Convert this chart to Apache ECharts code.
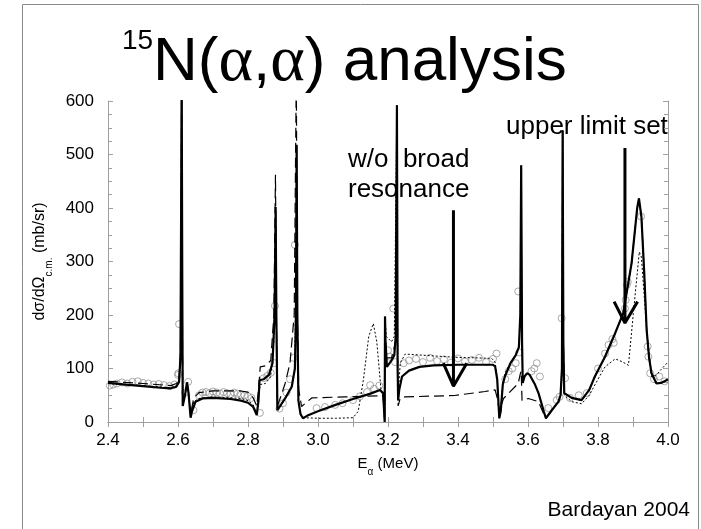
<!DOCTYPE html>
<html>
<head>
<meta charset="utf-8">
<script src="https://cdn.jsdelivr.net/npm/echarts@6/dist/echarts.min.js"></script>
<style>
  html, body { margin: 0; padding: 0; background: #fff; }
  #chart { width: 701px; height: 529px; }
</style>
</head>
<body>
<div id="chart"></div>
<script>
// energies (MeV) and cross sections (mb/sr)
const solidE = [2.40, 2.45, 2.50, 2.55, 2.58, 2.595, 2.603, 2.607, 2.609, 2.6105, 2.612, 2.6135, 2.620, 2.626, 2.630, 2.636, 2.640, 2.650, 2.67, 2.70, 2.75, 2.78, 2.80, 2.815, 2.825, 2.830, 2.833, 2.845, 2.86, 2.870, 2.876, 2.879, 2.881, 2.884, 2.89, 2.906, 2.925, 2.934, 2.937, 2.939, 2.941, 2.944, 2.950, 2.957, 2.97, 3.00, 3.05, 3.10, 3.15, 3.177, 3.186, 3.189, 3.1905, 3.1915, 3.193, 3.197, 3.21, 3.218, 3.222, 3.2255, 3.2275, 3.229, 3.232, 3.24, 3.26, 3.29, 3.33, 3.40, 3.50, 3.506, 3.512, 3.518, 3.522, 3.528, 3.534, 3.55, 3.565, 3.574, 3.578, 3.5805, 3.583, 3.585, 3.59, 3.597, 3.605, 3.62, 3.63, 3.645, 3.651, 3.668, 3.687, 3.693, 3.697, 3.699, 3.701, 3.7035, 3.725, 3.753, 3.775, 3.791, 3.82, 3.849, 3.872, 3.896, 3.912, 3.917, 3.924, 3.932, 3.939, 3.946, 3.953, 3.967, 3.98, 3.99, 4.0];
const solidV = [73, 70, 67, 64, 63, 66, 75, 120, 400, 650, 300, 30, 50, 74, 55, 8, 20, 38, 44, 45, 43, 40, 36, 28, 13, 40, 78, 80, 88, 110, 200, 402, 200, 22, 28, 44, 66, 100, 200, 518, 200, 40, 15, 7, 12, 20, 32, 43, 53, 60, 54, 20, 0, 197, 150, 103, 115, 125, 160, 592, 100, 40, 60, 85, 96, 103, 106, 107, 107, 104, 80, 7, 20, 70, 85, 110, 125, 140, 200, 480, 150, 73, 85, 91, 88, 70, 54, 20, 7, 22, 38, 50, 100, 545, 150, 54, 45, 41, 60, 85, 122, 166, 203, 297, 400, 418, 384, 280, 172, 120, 91, 72, 73, 76, 80];

const dashE = [2.40, 2.50, 2.58, 2.595, 2.603, 2.607, 2.609, 2.6105, 2.612, 2.6135, 2.620, 2.626, 2.630, 2.636, 2.645, 2.66, 2.70, 2.78, 2.80, 2.815, 2.825, 2.830, 2.835, 2.85, 2.865, 2.874, 2.8785, 2.881, 2.884, 2.895, 2.906, 2.92, 2.932, 2.938, 2.941, 2.945, 2.953, 2.982, 3.077, 3.186, 3.189, 3.1905, 3.1915, 3.195, 3.21, 3.222, 3.2255, 3.2275, 3.229, 3.235, 3.249, 3.39, 3.477, 3.506, 3.512, 3.518, 3.53, 3.572, 3.578, 3.5805, 3.583, 3.601, 3.63, 3.645, 3.651, 3.668, 3.687, 3.693, 3.697, 3.699, 3.701, 3.7035, 3.725, 3.753, 3.775, 3.791, 3.82, 3.849, 3.872, 3.896, 3.912, 3.917, 3.924, 3.932, 3.939, 3.946, 3.953, 3.967, 3.98, 3.99, 4.0];
const dashV = [76, 72, 68, 72, 80, 130, 400, 650, 300, 35, 55, 74, 55, 15, 45, 55, 58, 58, 56, 45, 30, 60, 103, 105, 115, 200, 462, 200, 30, 50, 72, 110, 200, 650, 200, 60, 29, 45, 47, 49, 20, 0, 190, 120, 120, 150, 590, 80, 30, 45, 47, 49.5, 57, 60, 45, 20, 44, 72, 90, 95, 40, 44, 38, 15, 7, 22, 38, 50, 100, 545, 150, 54, 45, 41, 60, 85, 122, 166, 203, 297, 400, 418, 384, 280, 172, 120, 91, 72, 73, 76, 80];

const dotE = [2.40, 2.50, 2.58, 2.595, 2.603, 2.607, 2.609, 2.6105, 2.612, 2.6135, 2.620, 2.626, 2.630, 2.636, 2.645, 2.66, 2.70, 2.78, 2.80, 2.815, 2.825, 2.830, 2.835, 2.85, 2.865, 2.874, 2.879, 2.881, 2.884, 2.895, 2.906, 2.925, 2.934, 2.939, 2.941, 2.944, 2.950, 2.96, 3.00, 3.05, 3.10, 3.115, 3.13, 3.145, 3.158, 3.168, 3.18, 3.186, 3.189, 3.1905, 3.1915, 3.195, 3.21, 3.218, 3.2255, 3.2275, 3.229, 3.235, 3.249, 3.39, 3.496, 3.506, 3.512, 3.518, 3.522, 3.528, 3.534, 3.55, 3.565, 3.574, 3.578, 3.5805, 3.583, 3.585, 3.59, 3.597, 3.605, 3.62, 3.63, 3.645, 3.651, 3.668, 3.687, 3.693, 3.697, 3.699, 3.701, 3.7035, 3.725, 3.753, 3.775, 3.80, 3.82, 3.849, 3.868, 3.887, 3.901, 3.918, 3.924, 3.939, 3.953, 3.967, 3.98, 4.0];
const dotV = [72, 68, 64, 68, 78, 125, 400, 650, 300, 30, 50, 74, 55, 10, 38, 44, 47, 44, 40, 32, 15, 45, 70, 72, 85, 150, 380, 200, 22, 30, 44, 66, 100, 500, 200, 40, 12, 8, 7, 7, 8, 20, 80, 160, 184, 150, 60, 45, 15, 0, 197, 160, 150, 160, 592, 110, 50, 110, 127, 121, 119, 112, 80, 7, 20, 75, 90, 112, 125, 140, 200, 480, 150, 73, 85, 91, 88, 70, 54, 20, 7, 22, 38, 50, 100, 545, 150, 50, 38, 34, 50, 80, 103, 118, 113, 106, 203, 318, 308, 172, 85, 88, 98, 112];

const dataE = [2.405, 2.415, 2.425, 2.44, 2.455, 2.47, 2.485, 2.50, 2.515, 2.53, 2.545, 2.56, 2.575, 2.59, 2.600, 2.601, 2.603, 2.620, 2.629, 2.644, 2.66, 2.67, 2.68, 2.69, 2.70, 2.71, 2.72, 2.73, 2.74, 2.75, 2.76, 2.77, 2.78, 2.79, 2.80, 2.81, 2.834, 2.845, 2.855, 2.865, 2.875, 2.877, 2.89, 2.90, 2.91, 2.92, 2.93, 2.934, 2.996, 3.02, 3.049, 3.07, 3.10, 3.12, 3.14, 3.149, 3.16, 3.175, 3.20, 3.205, 3.215, 3.22, 3.245, 3.26, 3.28, 3.30, 3.32, 3.34, 3.36, 3.38, 3.40, 3.42, 3.44, 3.46, 3.48, 3.50, 3.51, 3.535, 3.545, 3.555, 3.565, 3.572, 3.575, 3.61, 3.618, 3.625, 3.634, 3.658, 3.682, 3.69, 3.696, 3.706, 3.72, 3.745, 3.768, 3.80, 3.82, 3.83, 3.841, 3.845, 3.877, 3.879, 3.882, 3.885, 3.923, 3.942, 3.944, 3.949, 3.96, 3.975, 3.99];
const dataV = [68, 70, 72, 74, 72, 75, 76, 73, 72, 70, 71, 69, 67, 70, 88, 91, 183, 55, 75, 22, 50, 55, 56, 54, 57, 55, 53, 56, 54, 52, 55, 53, 51, 50, 48, 45, 17, 82, 86, 92, 110, 217, 25, 35, 55, 80, 120, 331, 26, 28, 32, 35, 41, 48, 56, 69, 62, 68, 134, 122, 212, 112, 110, 115, 118, 112, 120, 114, 117, 111, 119, 113, 116, 120, 112, 118, 128, 80, 95, 100, 110, 244, 130, 95, 100, 110, 85, 26, 41, 47, 194, 82, 45, 50, 54, 100, 128, 144, 155, 148, 212, 228, 256, 262, 384, 141, 122, 91, 80, 85, 76];

// annotation arrows (shaft top, tip, arm ends) in data units
const arrowOneE = [3.387, 3.387, null, 3.358, 3.387, 3.425];
const arrowOneV = [396, 67, null, 110, 67, 110];
const arrowTwoE = [3.877, 3.877, null, 3.846, 3.877, 3.913];
const arrowTwoV = [512, 185, null, 225, 185, 225];

const xTicks = [2.4, 2.6, 2.8, 3.0, 3.2, 3.4, 3.6, 3.8, 4.0];

const zip = (xs, ys) => xs.map((x, i) => (x === null ? [null, null] : [x, ys[i]]));

const chart = echarts.init(document.getElementById('chart'));
const font = "'Liberation Sans', Arial, Helvetica, sans-serif";
const serif = "'Liberation Serif', 'DejaVu Serif', serif";
const axisGray = '#a0a0a0';

const baseX = {
  type: 'value', min: 2.4, max: 4.0, interval: 0.2,
  axisLine: { show: true, lineStyle: { color: axisGray, width: 1 } },
  axisTick: { show: true, inside: true, length: 5, lineStyle: { color: axisGray } },
  minorTick: { show: true, splitNumber: 2, length: 5, lineStyle: { color: axisGray } },
  splitLine: { show: false }
};
const baseY = {
  type: 'value', min: 0, max: 600, interval: 100,
  axisLine: { show: true, lineStyle: { color: axisGray, width: 1 } },
  axisTick: { show: true, inside: true, length: 5, lineStyle: { color: axisGray } },
  minorTick: { show: true, splitNumber: 4, length: 4, lineStyle: { color: axisGray } },
  splitLine: { show: false }
};

const option = {
  backgroundColor: '#fff',
  animation: false,
  grid: { left: 108, right: 33, top: 101, bottom: 107 },
  xAxis: [
    Object.assign({}, baseX, {
      position: 'bottom',
      axisLabel: {
        color: '#000', fontSize: 17, fontFamily: font, margin: 10,
        formatter: v => xTicks.some(t => Math.abs(t - v) < 1e-6) ? v.toFixed(1) : ''
      },
      name: 'E{sub|α} (MeV)',
      nameLocation: 'middle', nameGap: 34,
      nameTextStyle: {
        color: '#000', fontSize: 15, fontFamily: font,
        rich: { sub: { fontSize: 10, fontFamily: font, color: '#000', verticalAlign: 'bottom', padding: [0, 0, -6, 0] } }
      }
    }),
    Object.assign({}, baseX, { position: 'top', axisLabel: { show: false } })
  ],
  yAxis: [
    Object.assign({}, baseY, {
      position: 'left',
      axisLabel: { color: '#000', fontSize: 17, fontFamily: font, margin: 14 },
      name: 'dσ/dΩ{sub|c.m.} (mb/sr)',
      nameLocation: 'middle', nameRotate: 90, nameGap: 58,
      nameTextStyle: {
        color: '#000', fontSize: 16, fontFamily: font,
        rich: { sub: { fontSize: 10, fontFamily: font, color: '#000', verticalAlign: 'bottom', padding: [0, 0, -7, 0] } }
      }
    }),
    Object.assign({}, baseY, { position: 'right', axisLabel: { show: false } })
  ],
  series: [
    {
      type: 'scatter', data: zip(dataE, dataV), symbol: 'circle', symbolSize: 7,
      itemStyle: { color: 'rgba(255,255,255,0)', borderColor: '#939393', borderWidth: 1 }, z: 1
    },
    {
      type: 'line', data: zip(dotE, dotV), showSymbol: false, symbol: 'none',
      lineStyle: { color: '#000', width: 1, type: [2, 2] }, z: 2
    },
    {
      type: 'line', data: zip(dashE, dashV), showSymbol: false, symbol: 'none',
      lineStyle: { color: '#000', width: 1.2, type: [10, 5] }, z: 3
    },
    {
      type: 'line', data: zip(solidE, solidV), showSymbol: false, symbol: 'none',
      lineStyle: { color: '#000', width: 2.2 }, z: 4
    },
    {
      type: 'line', data: zip(arrowOneE, arrowOneV), showSymbol: false, symbol: 'none', connectNulls: false,
      lineStyle: { color: '#000', width: 3 }, z: 5
    },
    {
      type: 'line', data: zip(arrowTwoE, arrowTwoV), showSymbol: false, symbol: 'none', connectNulls: false,
      lineStyle: { color: '#000', width: 3 }, z: 5
    }
  ],
  graphic: [
    { type: 'rect', shape: { x: 22.5, y: 4.5, width: 676, height: 540 }, style: { fill: null, stroke: '#8a8a8a', lineWidth: 1 }, silent: true, z: -1 },
    { type: 'text', x: 122, y: 27, style: { text: '15', fontSize: 28, fontFamily: font, fill: '#000', textVerticalAlign: 'top' } },
    {
      type: 'text', x: 153, y: 63,
      style: {
        text: 'N({g|α},{g|α}) analysis',
        fontSize: 62, fontFamily: font, fill: '#000', textVerticalAlign: 'middle',
        rich: { g: { fontSize: 66, fontFamily: serif, fill: '#000' } }
      }
    },
    { type: 'text', x: 348, y: 160, style: { text: 'w/o  broad', fontSize: 26, fontFamily: font, fill: '#000', textVerticalAlign: 'middle' } },
    { type: 'text', x: 348, y: 190, style: { text: 'resonance', fontSize: 26, fontFamily: font, fill: '#000', textVerticalAlign: 'middle' } },
    { type: 'text', x: 506, y: 127, style: { text: 'upper limit set', fontSize: 26, fontFamily: font, fill: '#000', textVerticalAlign: 'middle' } },
    { type: 'text', x: 690, y: 510, style: { text: 'Bardayan 2004', fontSize: 21, fontFamily: font, fill: '#000', textAlign: 'right', textVerticalAlign: 'middle' } }
  ]
};

chart.setOption(option);
</script>
</body>
</html>
